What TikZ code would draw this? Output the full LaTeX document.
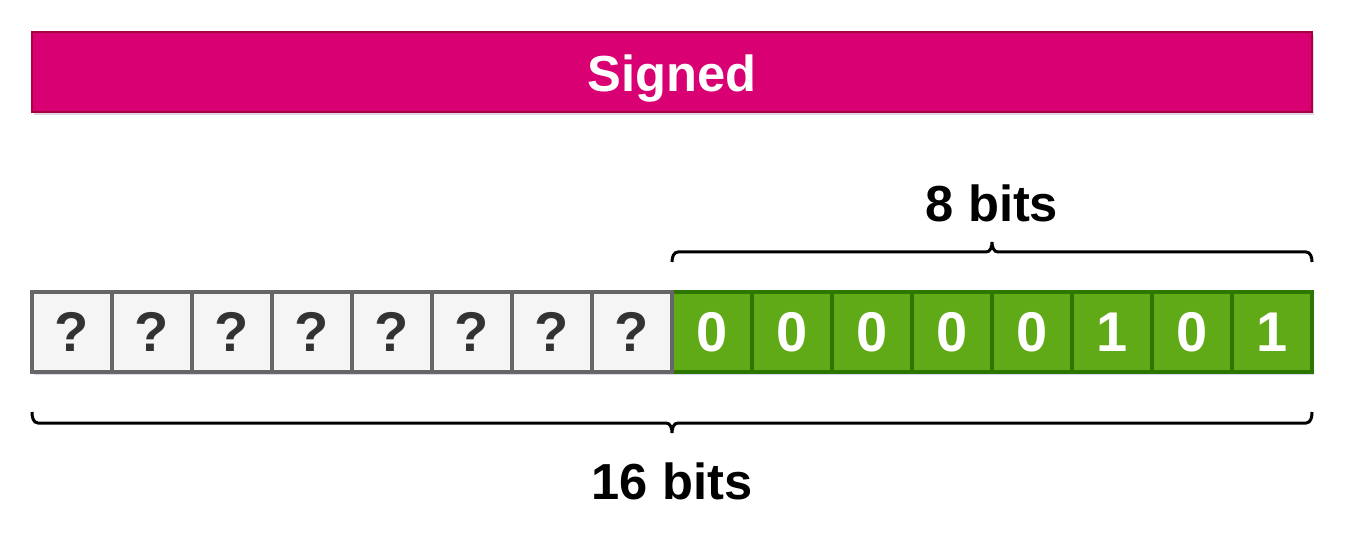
\documentclass[tikz,border=0pt]{standalone}
\usepackage{fontspec}
\setmainfont{Liberation Sans}
\usetikzlibrary{shadows}

\definecolor{signedfill}{RGB}{216,0,115}
\definecolor{signeddraw}{RGB}{165,0,64}
\definecolor{unkfill}{RGB}{245,245,245}
\definecolor{unkdraw}{RGB}{102,102,102}
\definecolor{unktext}{RGB}{51,51,51}
\definecolor{bitfill}{RGB}{96,169,23}
\definecolor{bitdraw}{RGB}{45,118,0}
\definecolor{softshadow}{RGB}{150,150,185}

\tikzset{
    boxshadow/.style={drop shadow={shadow xshift=1.5pt, shadow yshift=-2pt, fill=softshadow, opacity=0.35}},
    banner/.style={boxshadow, fill=signedfill, draw=signeddraw, line width=2pt, minimum width=960pt, minimum height=60pt, inner sep=0pt},
    bannertext/.style={inner sep=0pt, text=white, font=\bfseries\fontsize{38}{42}\selectfont},
    unkcell/.style={boxshadow, fill=unkfill, draw=unkdraw, line width=3pt, minimum width=60pt, minimum height=60pt, inner sep=0pt, text=unktext, font=\bfseries\fontsize{42}{46}\selectfont},
    bitcell/.style={boxshadow, fill=bitfill, draw=bitdraw, line width=3pt, minimum width=60pt, minimum height=60pt, inner sep=0pt, text=white, font=\bfseries\fontsize{42}{46}\selectfont},
    bracket/.style={line width=2.25pt, black},
    bitslabel/.style={inner sep=0pt, font=\bfseries\fontsize{38}{42}\selectfont},
}

\begin{document}
\begin{tikzpicture}[x=0.75pt,y=0.75pt,yscale=-1,xscale=1]
\useasboundingbox (0,0) rectangle (1351,559);

%Shape: Rectangle [banner]
\node [banner] (signed) at (672,72) {};
% Text Node
\node [bannertext] (signedtext) at (672,79) {Signed};

%Shape: Rectangle [low byte]
\node [bitcell] (c9) at (712,332) {0};
\node [bitcell] (c10) at (792,332) {0};
\node [bitcell] (c11) at (872,332) {0};
\node [bitcell] (c12) at (952,332) {0};
\node [bitcell] (c13) at (1032,332) {0};
\node [bitcell] (c14) at (1112,332) {1};
\node [bitcell] (c15) at (1192,332) {0};
\node [bitcell] (c16) at (1272,332) {1};

%Shape: Rectangle [high byte]
\node [unkcell] (c1) at (72,332) {?};
\node [unkcell] (c2) at (152,332) {?};
\node [unkcell] (c3) at (232,332) {?};
\node [unkcell] (c4) at (312,332) {?};
\node [unkcell] (c5) at (392,332) {?};
\node [unkcell] (c6) at (472,332) {?};
\node [unkcell] (c7) at (552,332) {?};
\node [unkcell] (c8) at (632,332) {?};

%Shape: Brace [8 bits]
\draw [bracket] (672,262) to[out=-90,in=180] (678,252) -- (986,252) to[out=0,in=90] (992,242) to[out=90,in=180] (998,252) -- (1306,252) to[out=0,in=-90] (1312,262) ;
%Shape: Brace [16 bits]
\draw [bracket] (32,412) to[out=90,in=180] (38,423) -- (666,423) to[out=0,in=-90] (672,433) to[out=-90,in=180] (678,423) -- (1306,423) to[out=0,in=90] (1312,412) ;

% Text Node
\node [bitslabel] (byte) at (992,203) {8 bits};
% Text Node
\node [bitslabel] (word) at (672,481) {16 bits};

\end{tikzpicture}
\end{document}
